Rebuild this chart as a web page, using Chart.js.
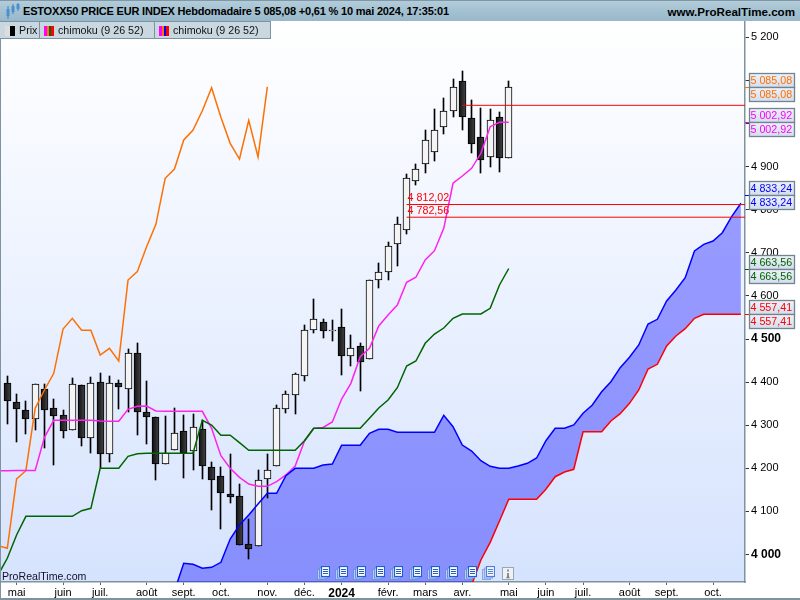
<!DOCTYPE html>
<html>
<head>
<meta charset="utf-8">
<title>ESTOXX50 Hebdomadaire</title>
<script src="https://cdn.jsdelivr.net/npm/chart.js@4"></script>
<style>
  html, body { margin: 0; padding: 0; background: #fff; }
  body { width: 800px; height: 600px; overflow: hidden; position: relative; font-family: "Liberation Sans", Arial, sans-serif; }
  #chart { position: absolute; left: 0; top: 0; }
  .abs { position: absolute; white-space: nowrap; }
  #header { left: 0; top: 0; width: 800px; height: 21px; border-top: 1px solid #7f97a6; box-sizing: border-box;
    background: linear-gradient(#b3ccd9, #a3c1d1 50%, #98b8ca); border-bottom: 0; }
  #title { left: 23px; top: 3px; font-size: 11px; letter-spacing: -0.19px; line-height: 17px; font-weight: bold; color: #000; }
  #site { right: 5px; top: 3px; font-size: 11.6px; line-height: 17px; font-weight: bold; color: #000; }
  #tabs { left: 0; top: 21px; width: 271px; height: 18px; background: #c9d8e0; border-bottom: 1px solid #7f929f; border-top: 1px solid #7f929f; box-sizing: border-box; }
  .tab { top: 22px; height: 17px; border-right: 1px solid #7f929f; box-sizing: border-box; font-size: 10.7px; line-height: 17px; color: #111; }
  #frameLeft { left: 0; top: 39px; width: 1px; height: 560px; background: #7f929f; }
  #frameBottom { left: 0; top: 598px; width: 800px; height: 2px; background: #7f929f; }
  #watermark { left: 2px; top: 569px; font-size: 10.6px; line-height: 14px; color: #112; }
</style>
</head>
<body>
<canvas id="chart" width="800" height="600"></canvas>
<div class="abs" id="header"></div>
<svg class="abs" style="left:4px;top:3px" width="16" height="17">
  <path d="M4 3v13M9 1v10M14 0v8" stroke="#3a7fc4" stroke-width="1"/>
  <rect x="2.5" y="6" width="3" height="7" fill="#4a90d0"/><rect x="7.5" y="3" width="3" height="6" fill="#4a90d0"/><rect x="12.5" y="1" width="3" height="5" fill="#4a90d0"/>
</svg>
<div class="abs" id="title">ESTOXX50 PRICE EUR INDEX Hebdomadaire 5 085,08 +0,61 % 10 mai 2024, 17:35:01</div>
<div class="abs" id="site">www.ProRealTime.com</div>
<div class="abs" id="tabs"></div>
<div class="abs tab" style="left:0;width:40px;padding-left:19px;overflow:hidden">Prix</div>
<div class="abs tab" style="left:40px;width:115px;padding-left:18px">chimoku (9 26 52)</div>
<div class="abs tab" style="left:155px;width:116px;padding-left:18px">chimoku (9 26 52)</div>
<svg class="abs" style="left:5px;top:26px" width="11" height="10"><rect width="5" height="10" fill="#ddd"/><rect x="5" width="5" height="10" fill="#000"/></svg>
<svg class="abs" style="left:44px;top:26px" width="10" height="10"><rect width="3" height="10" fill="#f0f"/><rect x="3" width="2" height="10" fill="#f70"/><rect x="5" width="2" height="10" fill="#060"/><rect x="7" width="3" height="10" fill="#f00"/></svg>
<svg class="abs" style="left:159px;top:26px" width="10" height="10"><rect width="3" height="10" fill="#f0f"/><rect x="3" width="2" height="10" fill="#f70"/><rect x="5" width="2" height="10" fill="#00f"/><rect x="7" width="3" height="10" fill="#f00"/></svg>
<div class="abs" id="frameLeft"></div>
<div class="abs" id="frameBottom"></div>
<div class="abs" id="watermark">ProRealTime.com</div>
<div id="icons"></div>

<script>
// Weekly candles, week 0 is the first full bar on the left
const candleOpen = [4398,4354,4335,4315,4384,4340,4324,4290,4393,4271,4400,4234,4398,4385,4467,4331,4319,4211,4243,4287,4239,4291,4203,4182,4140,4136,4024,4020,4176,4205,4337,4369,4413,4522,4539,4519,4527,4461,4483,4453,4636,4655,4720,4754,4866,4905,4933,4993,5028,5099,5013,4969,4922,5015,4921];
const candleClose = [4357,4338,4314,4395,4335,4322,4287,4396,4270,4399,4233,4399,4389,4467,4331,4319,4210,4235,4281,4236,4295,4205,4173,4143,4133,4022,4013,4174,4195,4339,4372,4418,4522,4547,4519,4521,4461,4478,4447,4636,4655,4715,4766,4873,4894,4961,4986,5030,5084,5014,4953,4916,5007,4921,5085.08];
const candleHigh = [4413,4372,4356,4396,4396,4360,4335,4409,4393,4411,4421,4413,4406,4477,4490,4403,4319,4321,4339,4324,4326,4312,4215,4202,4233,4164,4082,4196,4233,4347,4380,4420,4533,4592,4546,4544,4569,4509,4490,4638,4676,4725,4783,4883,4906,4986,5034,5059,5103,5122,5055,5036,5033,5027,5099];
const candleLow = [4303,4261,4280,4290,4246,4208,4270,4290,4252,4235,4200,4214,4338,4331,4277,4256,4173,4210,4243,4178,4196,4175,4103,4059,4119,4022,3990,4020,4131,4205,4329,4326,4403,4515,4503,4496,4417,4437,4379,4453,4618,4637,4669,4744,4858,4886,4914,4976,5014,4986,4932,4884,4900,4888,4921];

// Chimoku lines, each one starts at the week given next to it
const chikouFirstWeek = -1;
const chikou = [4020.4,4014.4,4175.2,4194.4,4339.2,4381.7,4420.4,4523.2,4548,4520.2,4520.2,4462.9,4478.4,4449,4636.9,4656.2,4714.2,4766.1,4872.8,4894.4,4961.7,4984.9,5029.7,5083,5014.4,4954,4917.6,5007.4,4922.3,5085.08];
const tenkanFirstWeek = -1;
const tenkan = [4194.4,4194.4,4195,4195,4195,4271.9,4311.4,4311.4,4311.4,4311.4,4311.4,4309.7,4309,4309,4336.9,4343.9,4344.5,4333,4332.3,4332.3,4332.3,4332.3,4332.3,4292.8,4229.2,4200,4179.1,4163.6,4158.2,4158.2,4168.9,4184.5,4205.3,4263.3,4292.8,4294.7,4307.4,4360.8,4397.2,4458.9,4478.4,4530.2,4555.7,4578.9,4631.6,4643.2,4683.3,4704.9,4756.9,4861.3,4878.2,4896,4930.9,4992.6,5002.92,5002.92];
const kijunFirstWeek = -1;
const kijun = [3952.4,3991.2,4045.2,4088.6,4088.6,4088.6,4088.6,4088.6,4088.6,4101.6,4107.2,4200,4200,4200,4227.8,4233.9,4234.8,4234.8,4234.8,4234.8,4234.8,4234.8,4311.4,4300.5,4276.6,4276.6,4259.4,4241.8,4241.8,4241.8,4241.8,4241.8,4241.8,4264,4292.8,4292.8,4292.8,4292.8,4292.8,4292.8,4316,4339.9,4358.5,4387,4437.4,4449,4490,4511.6,4525.5,4548,4558,4558,4558,4571.2,4625.3,4663.56];
const cloudFirstWeek = 18;
const senkouA = [3915.3,3979.6,3977.3,3968,3970.3,3981.9,4036,4068.4,4091.6,4117.2,4142,4142,4182.8,4200,4200,4200,4207.7,4210,4253.4,4253.4,4253.4,4281.2,4290.5,4290.5,4283.5,4283.5,4283.5,4283.5,4283.5,4323,4296.5,4254,4240,4217.6,4204.6,4200,4200,4205.3,4211.6,4223.9,4264,4292.8,4292.8,4300.5,4327.6,4346.9,4377.7,4400.9,4433.4,4457.5,4486.1,4534.8,4545.7,4588.2,4613.7,4642.2,4704.2,4719.7,4727.4,4746.6,4783.8,4814.9];
const senkouB = [3780,3780,3780,3780,3780,3780,3780,3780,3780,3780,3780,3780,3780,3810,3810,3810,3810,3810,3810,3810,3810,3810,3810,3840,3840,3840,3840,3840,3840,3860,3875,3895,3929.2,3987.2,4028.3,4077.7,4128.1,4128.1,4128.1,4128.1,4151.3,4180.5,4191.4,4197.7,4284.9,4284.9,4284.9,4309.7,4326.7,4350.8,4381.7,4430.4,4441.3,4483.8,4507,4523.9,4548,4557.41,4557.41,4557.41,4557.41,4557.41];

// Red horizontal levels
const levelValues = [5042.2, 4812.02, 4782.56];
const levelFirstWeek = [49, 43, 43];
const levelLabels = ["", "4 812,02", "4 782,56"];

// Value tags on the right axis
const tagValues = [5085.08, 5002.92, 4833.24, 4663.56, 4557.41];
const tagLabels = ["5 085,08", "5 002,92", "4 833,24", "4 663,56", "4 557,41"];

// Month ticks, as week numbers
const monthWeeks = [1,6,10,15,19,23,28,32,36,41,45,49,54,58,62,67,71,76];
const monthLabels = ["mai","juin","juil.","août","sept.","oct.","nov.","déc.","2024","févr.","mars","avr.","mai","juin","juil.","août","sept.","oct."];
const yTickMin = 4000, yTickMax = 5200;

const FONT = '"Liberation Sans", Arial, sans-serif';
const xMin = -0.68, xMax = 79.44;
const yMin = 3936.2, yMax = 5235.5;

function toPoints(values, firstWeek) {
  return values.map((v, i) => ({ x: firstWeek + i, y: v }));
}

function lineSet(label, values, firstWeek, color, extra) {
  return Object.assign({
    type: "line", label: label, data: toPoints(values, firstWeek), borderColor: color,
    borderWidth: 1.5, pointRadius: 0, tension: 0, fill: false, order: 1
  }, extra || {});
}

function isUp(i) { return candleClose[i] >= candleOpen[i]; }

function bodyColor(ctx) {
  if (ctx.type !== "data") return "#222";
  if (isUp(ctx.dataIndex)) return "#f4f4f4";
  const xs = ctx.chart.scales.x;
  if (!xs) return "#222";
  const px = xs.getPixelForValue(ctx.dataIndex);
  if (!Number.isFinite(px)) return "#222";
  const g = ctx.chart.ctx.createLinearGradient(px - 3.5, 0, px + 3.5, 0);
  g.addColorStop(0, "#111");
  g.addColorStop(1, "#444");
  return g;
}

// gradient behind the plot
const plotBackground = {
  id: "plotBackground",
  beforeDraw(chart) {
    const a = chart.chartArea, c = chart.ctx;
    const g = c.createLinearGradient(0, a.top, 0, a.bottom);
    g.addColorStop(0, "#ffffff");
    g.addColorStop(1, "#d6e3fe");
    c.fillStyle = g;
    c.fillRect(a.left, a.top, a.right - a.left, a.bottom - a.top);
  }
};

// keep the candles on whole pixels so the edges stay sharp
const snapBars = {
  id: "snapBars",
  afterDatasetsUpdate(chart) {
    chart.getSortedVisibleDatasetMetas().forEach(meta => {
      if (meta.type !== "bar") return;
      meta.data.forEach(bar => {
        bar.x = Math.floor(bar.x) + 0.5;
        bar.y = Math.round(bar.y);
        bar.base = Math.round(bar.base);
        bar.height = bar.base - bar.y;
      });
    });
  }
};

const tagColors = ["#ff7000", "#ff00ff", "#0000ff", "#006400", "#ff0000"];

// boxes on the axis and the labels of the red levels
const overlays = {
  id: "overlays",
  afterDraw(chart) {
    const c = chart.ctx, ys = chart.scales.y, xs = chart.scales.x;
    c.save();
    c.font = "10.7px " + FONT;
    c.textBaseline = "middle";
    c.textAlign = "left";
    levelLabels.forEach((t, i) => {
      if (!t) return;
      c.fillStyle = "#ff0000";
      c.fillText(t, xs.getPixelForValue(levelFirstWeek[i]) + 1, ys.getPixelForValue(levelValues[i]) - 6);
    });
    tagValues.forEach((v, i) => {
      const py = Math.round(ys.getPixelForValue(v));
      c.strokeStyle = tagColors[i];
      c.lineWidth = 1;
      c.beginPath(); c.moveTo(745, py + 0.5); c.lineTo(750, py + 0.5); c.stroke();
      [py - 14, py].forEach(top => {
        const g = c.createLinearGradient(0, top, 0, top + 14);
        g.addColorStop(0, "#eef2f9");
        g.addColorStop(1, "#d5deee");
        c.fillStyle = g;
        c.fillRect(749.5, top + 0.5, 45, 14);
        c.strokeStyle = "#72858f";
        c.lineWidth = 1.3;
        c.strokeRect(749.5, top + 0.5, 45, 14);
        c.fillStyle = tagColors[i];
        c.fillText(tagLabels[i], 750.5, top + 8);
      });
    });
    c.restore();
  }
};

const candleCount = candleOpen.length;
const wickData = [], bodyData = [];
for (let i = 0; i < candleCount; i++) {
  wickData.push({ x: i, y: [candleLow[i], candleHigh[i]] });
  bodyData.push({ x: i, y: [candleOpen[i], candleClose[i]] });
}

const levelSets = levelValues.map((v, i) => lineSet("level" + i,
  [v, v], 0, "#ff0000", { data: [{ x: levelFirstWeek[i], y: v }, { x: xMax, y: v }], borderWidth: 1, order: 0 }));

const cloudTargetIndex = 1;
const datasets = [
  lineSet("senkouA", senkouA, cloudFirstWeek, "#0000ff", {
    fill: { target: cloudTargetIndex, above: "rgba(0,0,255,0.37)", below: "rgba(0,0,255,0.37)" }
  }),
  lineSet("senkouB", senkouB, cloudFirstWeek, "#ff0000"),
  lineSet("kijun", kijun, kijunFirstWeek, "#006400"),
  lineSet("tenkan", tenkan, tenkanFirstWeek, "#ff22ee", {
    segment: { borderColor: c => c.p0DataIndex === 33 ? "#555555" : undefined }
  }),
  lineSet("chikou", chikou, chikouFirstWeek, "#ff7000"),
  { type: "bar", label: "wick", data: wickData, backgroundColor: "#000", borderWidth: 0, barThickness: 1, grouped: false, order: 3 },
  { type: "bar", label: "body", data: bodyData, backgroundColor: bodyColor, borderColor: "#000", borderWidth: 1,
    borderSkipped: false, barThickness: 7, grouped: false, order: 2 }
].concat(levelSets);

new Chart(document.getElementById("chart"), {
  type: "bar",
  data: { datasets: datasets },
  plugins: [plotBackground, snapBars, overlays],
  options: {
    responsive: false,
    animation: false,
    parsing: { xAxisKey: "x", yAxisKey: "y" },
    layout: { padding: { top: 22, left: 1, right: 0, bottom: 0 } },
    plugins: { legend: { display: false }, tooltip: { enabled: false }, title: { display: false },
      filler: { drawTime: "beforeDatasetsDraw" } },
    scales: {
      x: {
        type: "linear", min: xMin, max: xMax, offset: false,
        grid: { offset: false, drawOnChartArea: false, drawTicks: true, tickLength: 3, color: "#55666f" },
        border: { color: "#7f929f", width: 1.5 },
        afterBuildTicks(scale) { scale.ticks = monthWeeks.map(w => ({ value: w })); },
        afterFit(scale) { scale.height = 18; },
        ticks: {
          autoSkip: false, maxRotation: 0, padding: 1, color: "#000",
          font: c => (c.tick && c.tick.value === 36) ? { family: FONT, size: 12, weight: "bold" } : { family: FONT, size: 11 },
          callback: (v, i) => monthLabels[i]
        }
      },
      y: {
        type: "linear", position: "right", min: yMin, max: yMax,
        grid: { drawOnChartArea: false, drawTicks: true, tickLength: 4, color: "#333" },
        border: { color: "#7f929f", width: 1.5 },
        afterBuildTicks(scale) {
          const t = [];
          for (let v = yTickMin; v <= yTickMax; v += 100) t.push({ value: v });
          scale.ticks = t;
        },
        afterFit(scale) { scale.width = 55; },
        ticks: {
          padding: 2, color: "#000", autoSkip: false,
          font: c => (c.tick && c.tick.value % 500 === 0) ? { family: FONT, size: 12, weight: "bold" } : { family: FONT, size: 11 },
          callback: v => String(v).slice(0, 1) + " " + String(v).slice(1)
        }
      }
    }
  }
});

// small page icons along the bottom
const iconBox = document.getElementById("icons");
for (let n = 0; n < 10; n++) {
  const faded = n === 9 ? ' opacity="0.75"' : "";
  iconBox.innerHTML += '<svg class="abs" style="left:' + (316.5 + n * 18.4) + 'px;top:566px" width="13" height="14"' + faded + '>' +
    '<rect x="0.5" y="3.5" width="8" height="10" fill="#b9ccf4" stroke="#6f8fe0"/>' +
    '<rect x="2.5" y="2" width="8" height="10" fill="#c9d8f8" stroke="#6f8fe0"/>' +
    '<rect x="4.5" y="0.5" width="8" height="10" fill="#fff" stroke="#1f5ed0" stroke-width="1.2"/>' +
    '<path d="M6 3.5h5M6 5.5h5M6 7.5h5" stroke="#1f5ed0"/></svg>';
}
iconBox.innerHTML += '<svg class="abs" style="left:502px;top:567px" width="12" height="13"><rect x="0.5" y="0.5" width="11" height="12" fill="#eef1f6" stroke="#9aa7b2"/>' +
  '<path d="M6 2.5v2M6 6v4.5M4.5 10.5h3" stroke="#777" stroke-width="1.6"/></svg>';
</script>
</body>
</html>
